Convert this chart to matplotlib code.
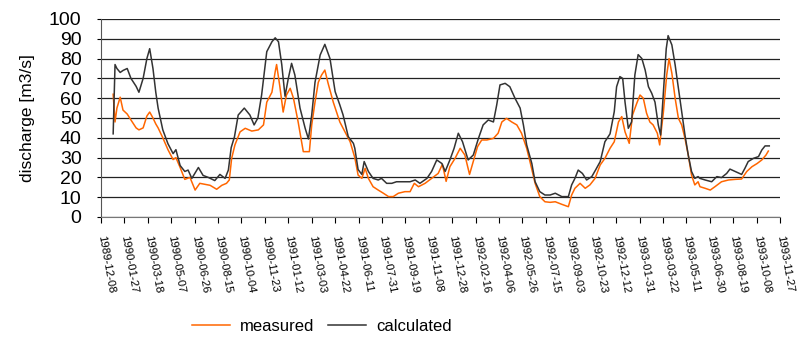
import matplotlib.pyplot as plt
import numpy as np

plt.rcParams['font.family'] = ['Liberation Sans', 'DejaVu Sans']

start = np.datetime64('1989-12-08')
tick_days = np.arange(0, 1451, 50)
tick_labels = [str(start + int(d)) for d in tick_days]

# days since 1989-12-08, values in m3/s
calc_day = [26, 30, 34, 41, 47, 56, 64, 75, 81, 90, 98, 104, 111, 117, 122, 132, 143, 154, 160, 169,
            179, 186, 194, 208, 218, 229, 243, 254, 265, 272, 278, 285, 293, 306, 318, 327, 335, 343, 354, 365,
            372, 379, 386, 393, 400, 407, 414, 425, 436, 443, 450, 457, 468, 478, 489, 500, 510, 517, 528, 539,
            542, 549, 557, 562, 571, 581, 592, 599, 610, 621, 631, 646, 660, 671, 681, 696, 706, 717, 728, 735,
            745, 754, 763, 772, 784, 795, 806, 816, 827, 838, 845, 852, 863, 873, 884, 895, 902, 909, 920, 927,
            937, 948, 959, 970, 984, 998, 1005, 1012, 1019, 1028, 1037, 1048, 1056, 1066, 1076, 1087, 1096, 1101, 1108, 1114,
            1119, 1126, 1133, 1140, 1147, 1155, 1162, 1169, 1176, 1183, 1190, 1195, 1201, 1207, 1211, 1219, 1226, 1233, 1240, 1247,
            1254, 1261, 1268, 1275, 1279, 1290, 1304, 1315, 1325, 1336, 1343, 1354, 1368, 1375, 1382, 1393, 1404, 1411, 1418, 1427]
calc_val = [42, 77, 75, 73, 74, 75, 70, 66, 63, 70, 80, 85, 75, 63, 55, 44, 37, 32, 34, 26,
            23, 23.7, 19.5, 25, 21, 20, 18.4, 21.5, 19.5, 23.7, 35, 40.5, 51.5, 55, 51.5, 46.5, 50, 61.6, 83.5, 88.5,
            90.5, 88.5, 77, 61, 70, 77.6, 71.7, 55, 44.8, 39.4, 51.5, 68, 81.8, 87.2, 80, 63.3, 56.6, 51.5, 40.6, 37.2,
            34.7, 24, 21.5, 28, 23, 19.5, 18.7, 19.5, 17, 17, 17.8, 17.8, 17.8, 18.7, 17, 19.5, 23, 28.8, 27, 23,
            28.8, 34.7, 42.3, 38, 28.8, 31.3, 39.7, 46.5, 49, 48, 56.6, 66.7, 67.5, 65.8, 60, 55, 46.5, 36.4, 27, 17.8,
            12.8, 11.1, 11.1, 12, 10.3, 10.3, 16.2, 19.5, 23.7, 22, 18.7, 20.4, 23.7, 28, 38, 42, 53.2, 65.8, 70.9, 70,
            58, 44.8, 48, 71.7, 82, 80, 74.2, 65.8, 62.5, 58, 46.5, 41.4, 63.3, 85, 91.6, 86.9, 76.8, 65, 53.2, 41.4,
            31.3, 23, 19.5, 20.4, 19.5, 18.7, 17.8, 20.4, 19.9, 22, 24.2, 23, 21.5, 24.6, 28, 29.6, 30.5, 33.8, 35.9, 35.9]

meas_day = [26, 30, 34, 41, 47, 56, 64, 75, 81, 90, 98, 104, 111, 117, 122, 132, 143, 154, 160, 169,
            179, 190, 201, 211, 222, 233, 247, 258, 268, 274, 279, 286, 297, 308, 322, 336, 347, 354, 365, 372,
            375, 382, 389, 396, 404, 411, 421, 432, 445, 450, 457, 464, 471, 478, 485, 496, 510, 521, 532, 542,
            549, 557, 564, 571, 581, 592, 603, 614, 624, 635, 649, 660, 669, 678, 692, 706, 720, 729, 737, 745,
            756, 767, 777, 787, 795, 804, 813, 824, 838, 848, 856, 866, 877, 888, 898, 909, 916, 927, 937, 948,
            959, 970, 984, 998, 1005, 1012, 1023, 1034, 1044, 1055, 1066, 1076, 1087, 1096, 1105, 1112, 1119, 1128, 1135, 1144,
            1151, 1158, 1165, 1172, 1179, 1188, 1193, 1201, 1208, 1213, 1219, 1226, 1233, 1240, 1247, 1254, 1261, 1268, 1275, 1279,
            1290, 1301, 1311, 1325, 1340, 1354, 1368, 1379, 1390, 1401, 1411, 1420, 1425]
meas_val = [62, 48, 55, 60.5, 54, 52, 49, 45, 44, 45, 51, 53, 50, 47, 45, 40, 34, 29, 30, 25,
            19, 20, 13.6, 17, 16.5, 16, 14, 16, 17, 18.7, 29.6, 36.4, 43, 44.8, 43.4, 44, 46.5, 58, 63, 73.4,
            77, 65.8, 53, 61.6, 65, 60, 48, 33, 33, 46.5, 58, 68, 71.7, 74.2, 67.5, 58, 48, 43, 38, 30,
            21.2, 19.5, 24.6, 19.5, 15.3, 13.6, 12, 10.3, 10.3, 12, 12.8, 12.8, 17, 15.3, 17, 19.5, 22, 26.6, 18, 25.4,
            29.6, 34.7, 31.3, 21.5, 28, 35.5, 38.9, 38.9, 39.7, 42.3, 48, 49.8, 48, 46.5, 42.3, 34.7, 28, 17, 10.3, 7.7,
            7.4, 7.7, 6.4, 5.2, 11.1, 14.5, 17, 14.5, 16.2, 19.5, 26.3, 29.6, 34.7, 38, 48, 50.7, 43, 37.2, 51.5, 57.4,
            61.6, 60, 52.4, 48, 46.5, 42.3, 36.4, 53.2, 71.7, 80, 72.6, 60, 49.8, 46.5, 39.7, 31.3, 21.2, 16.2, 17.8, 15.3,
            14.5, 13.6, 15.3, 17.8, 18.7, 19, 19.2, 23, 25.4, 27, 28.8, 31.3, 33.3]

fig = plt.figure(figsize=(8.04, 3.38), dpi=100)
ax = fig.add_axes([0.1256, 0.358, 0.8446, 0.5858])

ax.plot(meas_day, meas_val, color='#ff6600', lw=1.1, label='measured')
ax.plot(calc_day, calc_val, color='#333333', lw=1.1, label='calculated')

ax.set_xlim(0, 1450)
ax.set_ylim(0, 100)
ax.set_yticks(range(0, 101, 10))
ax.tick_params(axis='y', labelsize=14, length=3, pad=11)
ax.set_xticks(tick_days)
ax.set_xticklabels(tick_labels, rotation=-80, rotation_mode='anchor', ha='left', va='center', fontsize=8.2)
ax.tick_params(axis='x', length=4, pad=9)
ax.set_ylabel('discharge [m3/s]', fontsize=12.5, labelpad=10)

ax.grid(axis='y', color='#222222', lw=0.9)
ax.set_axisbelow(True)
for s in ['top', 'right']:
    ax.spines[s].set_visible(False)
ax.spines['left'].set_color('#555555')
ax.spines['bottom'].set_color('#777777')

fig.legend(loc='center', bbox_to_anchor=(0.4, 0.035), ncol=2, frameon=False, fontsize=12,
           handlelength=2.3, columnspacing=0.8, handletextpad=0.6)

fig.savefig('out.png', dpi=100)
